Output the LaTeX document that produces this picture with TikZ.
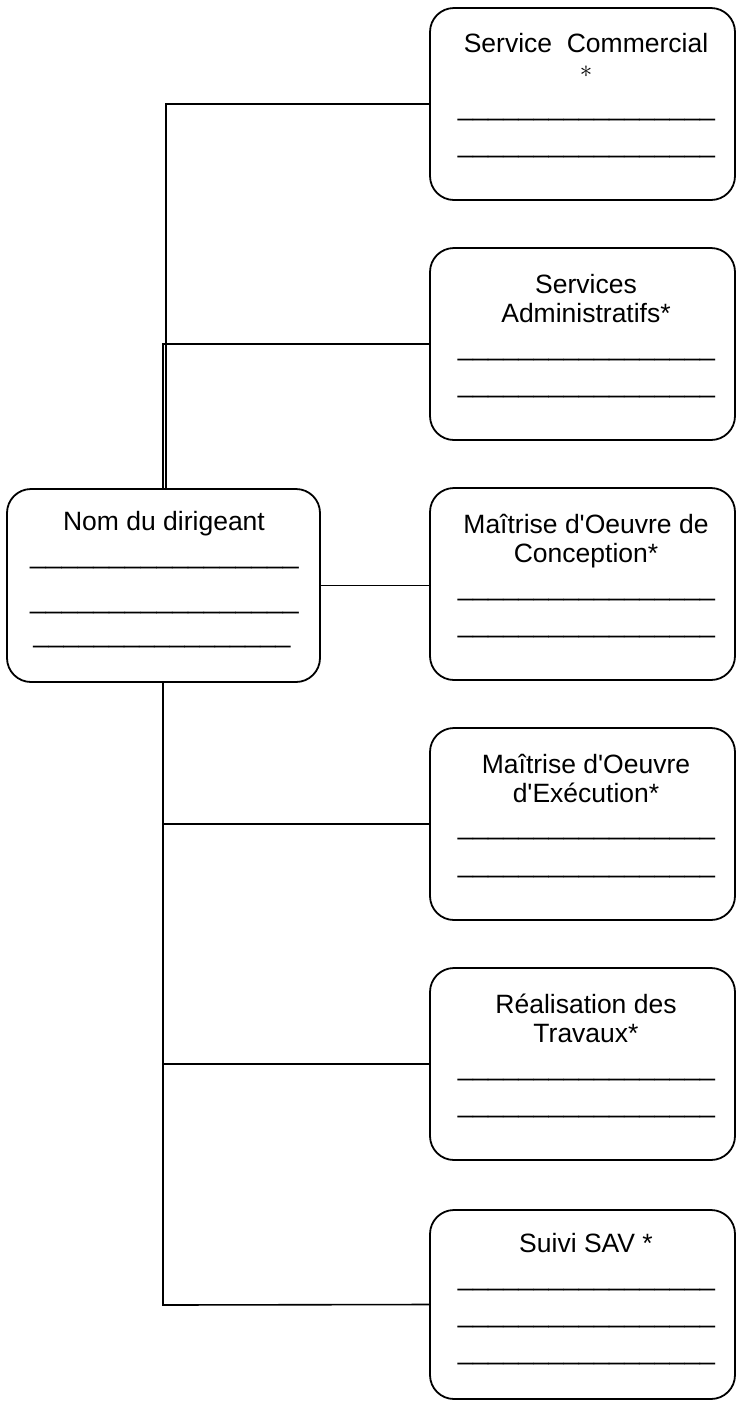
\documentclass[tikz,border=0pt]{standalone}
\usepackage{fontspec}
\setmainfont{Liberation Sans}[Ligatures=TeXOff]
\newcommand{\uline}[1]{\fontsize{27.2}{30}\selectfont\foreach \i in {1,...,#1}{\_}}
\tikzset{
  box/.style={draw, line width=1.8pt, rounded corners=24pt, minimum width=305pt, minimum height=192pt, inner sep=0pt},
  bossbox/.style={draw, line width=1.8pt, rounded corners=24pt, minimum width=313pt, minimum height=193pt, inner sep=0pt},
  ttl/.style={anchor=base, inner sep=0pt, font=\fontsize{26.5}{30}\selectfont},
  fill line/.style={anchor=base, inner sep=0pt},
  conn/.style={line width=1.6pt}
}
\begin{document}
\begin{tikzpicture}[x=1pt,y=-1pt]
\useasboundingbox (0,0) rectangle (737,1401);
% boxes
\node[box] (b1) at (582.5,104) {};
\node[box] (b2) at (582.5,344) {};
\node[box] (b3) at (582.5,584) {};
\node[box] (b4) at (582.5,824) {};
\node[box] (b5) at (582.5,1064) {};
\node[box, minimum height=189pt] (b6) at (582.5,1304.5) {};
\node[bossbox] (boss) at (163.5,585.5) {};
% titles
\node[ttl] (b1t) at (586,52) {Service\ \ Commercial};
\node[inner sep=0pt, font=\fontsize{28}{30}\selectfont] (b1s) at (586,71.5) {$\ast$};
\node[ttl] (b2t) at (586,293) {Services};
\node[ttl] (b2u) at (586,322) {Administratifs*};
\node[ttl] (b3t) at (586,533) {Maîtrise d'Oeuvre de};
\node[ttl] (b3u) at (586,562) {Conception*};
\node[ttl] (b4t) at (586,773) {Maîtrise d'Oeuvre};
\node[ttl] (b4u) at (586,802) {d'Exécution*};
\node[ttl] (b5t) at (586,1013) {Réalisation des};
\node[ttl] (b5u) at (586,1042) {Travaux*};
\node[ttl] (b6t) at (586,1252) {Suivi SAV *};
\node[ttl] (bosst) at (164,530) {Nom du dirigeant};
% fill-in lines
\node[fill line] (l11) at (586.5,115.5) {\uline{17}};
\node[fill line] (l12) at (586.5,152.5) {\uline{17}};
\node[fill line] (l21) at (586.5,355.5) {\uline{17}};
\node[fill line] (l22) at (586.5,392.5) {\uline{17}};
\node[fill line] (l31) at (586.5,595.5) {\uline{17}};
\node[fill line] (l32) at (586.5,632.5) {\uline{17}};
\node[fill line] (l41) at (586.5,834.5) {\uline{17}};
\node[fill line] (l42) at (586.5,872.5) {\uline{17}};
\node[fill line] (l51) at (586.5,1075.5) {\uline{17}};
\node[fill line] (l52) at (586.5,1112.5) {\uline{17}};
\node[fill line] (l61) at (586.5,1285.5) {\uline{17}};
\node[fill line] (l62) at (586.5,1322.5) {\uline{17}};
\node[fill line] (l63) at (586.5,1359.5) {\uline{17}};
\node[fill line, xscale=1.045] (lb1) at (164.5,563.5) {\uline{17}};
\node[fill line, xscale=1.045] (lb2) at (164.5,608.5) {\uline{17}};
\node[fill line] (lb3) at (162,642.5) {\uline{17}};
% connectors
\coordinate (t1) at (166,104);
\coordinate (t2) at (163,344);
\coordinate (t4) at (163,824);
\coordinate (t5) at (163,1064);
\coordinate (t6) at (163,1305);
\draw[conn] (b1.west) -- (t1) -- (t1 |- boss.north);
\draw[conn] (b2.west) -- (t2) -- (t2 |- boss.north);
\draw[conn] (boss.east) -- (boss.east -| b3.west);
\draw[conn] (t6 |- boss.south) -- (t6) -- (b6.west);
\draw[conn] (t4) -- (b4.west);
\draw[conn] (t5) -- (b5.west);
\end{tikzpicture}
\end{document}
